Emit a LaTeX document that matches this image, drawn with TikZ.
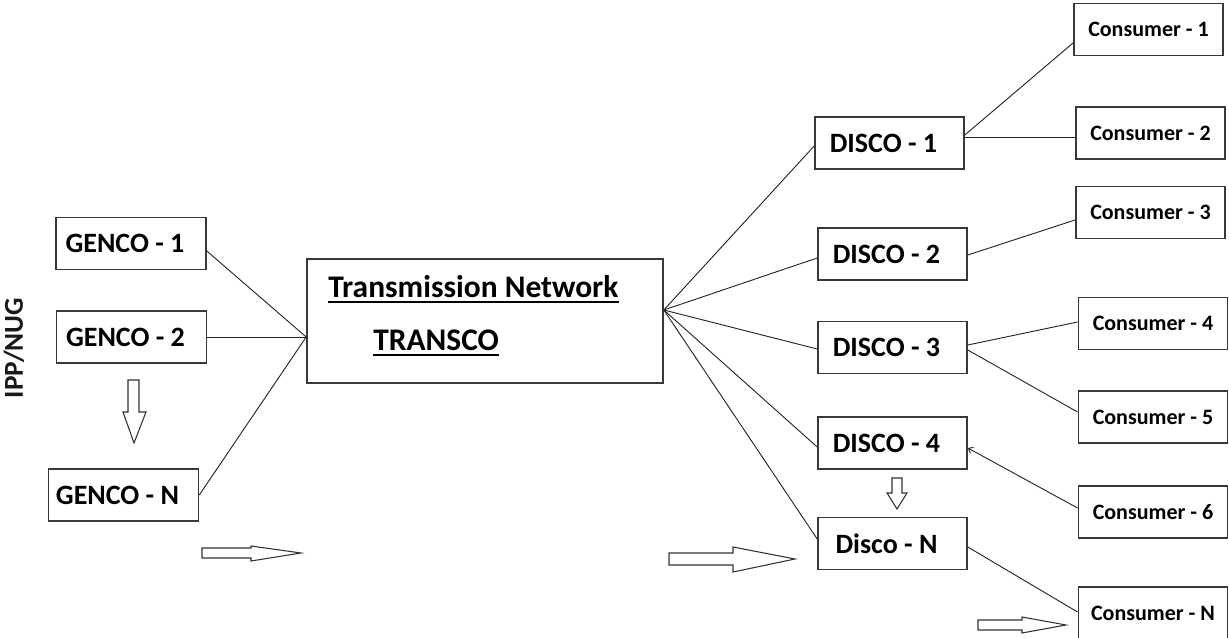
\documentclass[tikz,border=0pt]{standalone}
\usepackage{fontspec}
\setmainfont{Carlito}
\usetikzlibrary{arrows.meta,calc}
\begin{document}
\begin{tikzpicture}[x=0.75pt,y=-0.75pt,
  bx/.style={draw=black!78, line width=1.2pt, fill=white, inner sep=0pt, font=\bfseries},
  gbox/.style={bx, minimum width=112.5pt, minimum height=39pt, font=\bfseries\fontsize{21pt}{25pt}\selectfont, execute at end node={\hspace*{9pt}}},
  dbox/.style={bx, minimum width=111.75pt, minimum height=39pt, font=\bfseries\fontsize{21pt}{25pt}\selectfont, execute at end node={\hspace*{9pt}}},
  cbox/.style={bx, minimum width=112pt, minimum height=39pt, font=\bfseries\fontsize{16.5pt}{20pt}\selectfont},
  ln/.style={draw=black!85, line width=0.7pt},
  blk/.style={draw=black!80, line width=0.8pt, fill=white, line join=miter},
  ttl/.style={inner sep=0pt, anchor=base west, font=\bfseries\fontsize{23.6pt}{28pt}\selectfont}
]
\useasboundingbox (0,0) rectangle (1229,638);

% side label
\node[rotate=90, inner sep=0pt, font=\bfseries\fontsize{20.5pt}{24pt}\selectfont, text=black!90] (ipp) at (14,348) {IPP/NUG};

% GENCOs
\node[gbox] (G1) at (131,243.5) {GENCO - 1};
\node[gbox] (G2) at (131.5,337) {GENCO - 2};
\node[gbox] (GN) at (123.5,495) {GENCO - N};

% Transmission network
\node[bx, minimum width=267pt, minimum height=93pt] (T) at (485,321) {};
\node[ttl] (tn) at (328,297) {Transmission Network};
\node[ttl] (tc) at (373,350) {TRANSCO};
\draw[line width=1.5pt] ([yshift=-3.5pt]tn.base west) -- ([yshift=-3.5pt]tn.base east);
\draw[line width=1.5pt] ([yshift=-4pt]tc.base west) -- ([yshift=-4pt]tc.base east);
\coordinate (TL) at ($(T.west)+(0,16)$);
\coordinate (TR) at ($(T.east)+(0,-11)$);

% DISCOs
\node[dbox] (D1) at (889.5,143) {DISCO - 1};
\node[dbox] (D2) at (892.5,254) {DISCO - 2};
\node[dbox] (D3) at (892.5,347.5) {DISCO - 3};
\node[dbox] (D4) at (892.5,443) {DISCO - 4};
\node[dbox] (DN) at (892.5,543.5) {Disco - N};

% Consumers
\node[cbox] (C1) at (1148.5,29.5) {Consumer - 1};
\node[cbox] (C2) at (1150.5,133) {Consumer - 2};
\node[cbox] (C3) at (1150.5,212.5) {Consumer - 3};
\node[cbox] (C4) at (1153,323.5) {Consumer - 4};
\node[cbox] (C5) at (1153,417) {Consumer - 5};
\node[cbox] (C6) at (1153,512) {Consumer - 6};
\node[cbox, minimum height=40pt] (CN) at (1153,613.5) {Consumer - N};

% GENCO -> TRANSCO
\draw[ln] ($(G1.east)+(0,7.5)$) -- (TL);
\draw[ln] (G2.east) -- (TL);
\draw[ln] (GN.east) -- (TL);

% TRANSCO -> DISCO
\draw[ln] (TR) -- ($(D1.west)+(0,3)$);
\draw[ln] (TR) -- ($(D2.west)+(0,4)$);
\draw[ln] (TR) -- ($(D3.west)+(0,1.5)$);
\draw[ln] (TR) -- ($(D4.west)+(0,4)$);
\draw[ln] (TR) -- ($(DN.west)+(0,-4.5)$);

% DISCO -> Consumers
\draw[ln] ($(D1.east)+(0,-8)$) -- ($(C1.west)+(0,13.5)$);
\draw[ln] ($(D1.east)+(0,-6)$) -- ($(C2.west)+(0,4)$);
\draw[ln] ($(D2.east)+(0,1)$) -- ($(C3.west)+(0,7.5)$);
\draw[ln] ($(D3.east)+(0,-2.5)$) -- ($(C4.west)+(0,-1.5)$);
\draw[ln] ($(D3.east)+(0,2.5)$) -- ($(C5.west)+(0,-5)$);
\draw[ln, {Straight Barb[length=3pt,width=5pt]}-] ($(D4.east)+(0,5)$) -- ($(C6.west)+(0,-4)$);
\draw[ln] ($(DN.east)+(0,3.5)$) -- ($(CN.west)+(0,-1.5)$);

% block arrows
\draw[blk] (128,380) -- (139,380) -- (139,412) -- (146,412) -- (134,443) -- (123,412) -- (128,412) -- cycle;
\draw[blk] (892,478) -- (902,478) -- (902,493) -- (907,493) -- (897,509) -- (887,493) -- (892,493) -- cycle;
\draw[blk] (202,548) -- (251,548) -- (251,546) -- (301,553) -- (251,561) -- (251,558) -- (202,558) -- cycle;
\draw[blk] (669,553) -- (733,553) -- (733,547) -- (795,559) -- (733,572) -- (733,565) -- (669,565) -- cycle;
\draw[blk] (978,620) -- (1022,620) -- (1022,617) -- (1066,625) -- (1022,633) -- (1022,630) -- (978,630) -- cycle;
\end{tikzpicture}
\end{document}
